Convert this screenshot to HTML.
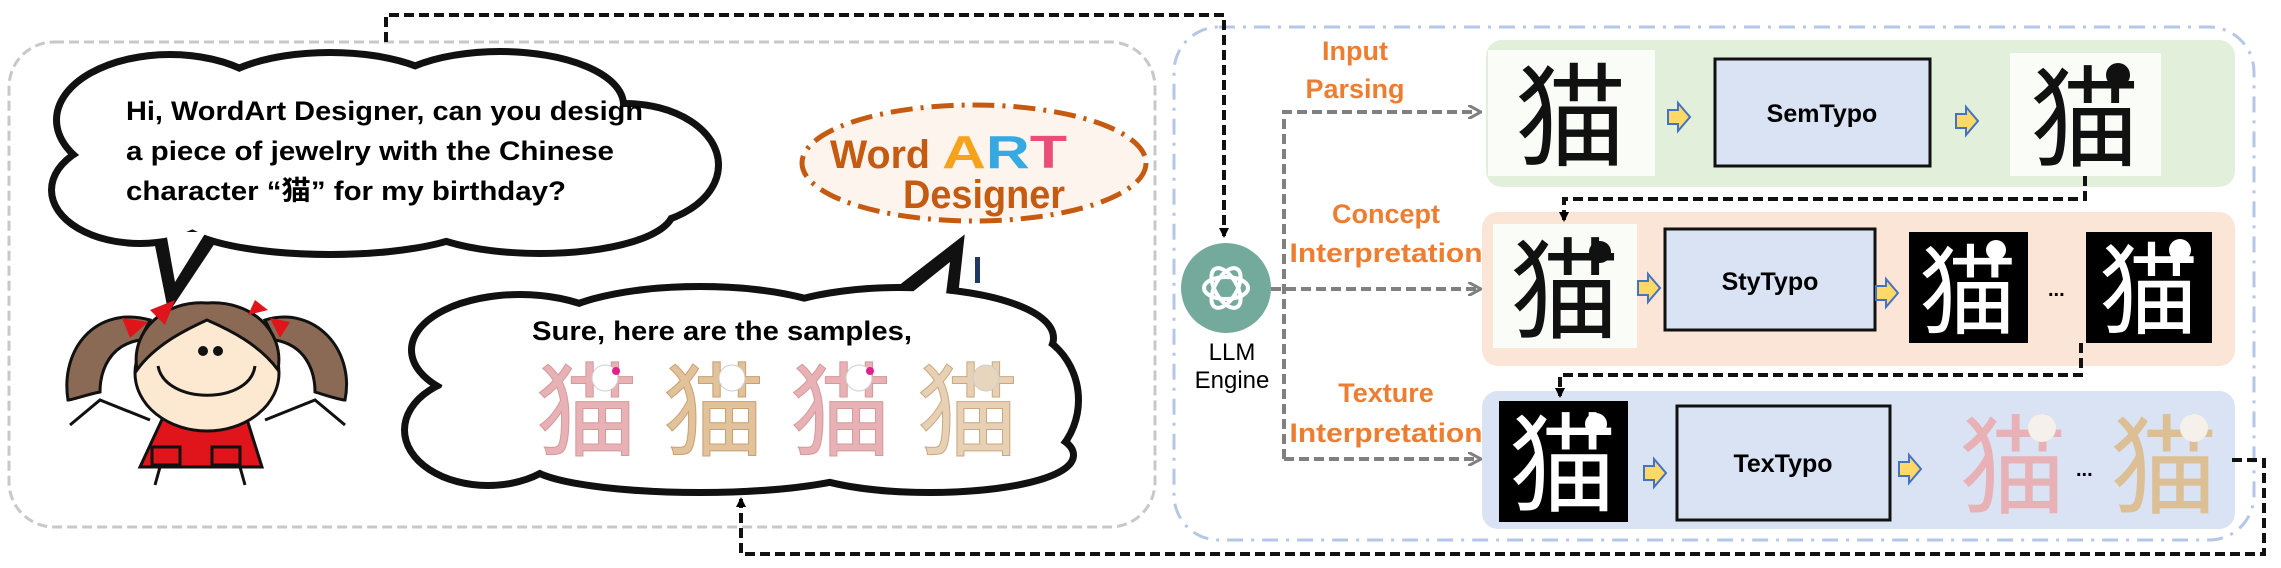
<!DOCTYPE html>
<html><head><meta charset="utf-8"><style>
html,body{margin:0;padding:0;background:#fff;}
svg{display:block;}
text{font-family:"Liberation Sans","Noto Sans CJK SC",sans-serif;font-weight:bold;}
.cj{font-family:"Noto Sans CJK SC",sans-serif;font-weight:normal;}
</style></head><body>
<svg width="2281" height="568" viewBox="0 0 2281 568" xmlns="http://www.w3.org/2000/svg">
<defs>
<marker id="ab" markerWidth="10" markerHeight="10" refX="8" refY="5" orient="auto" markerUnits="userSpaceOnUse"><path d="M0,0 L10,5 L0,10 z" fill="#000"/></marker>
<marker id="ag" markerWidth="14" markerHeight="14" refX="12" refY="7" orient="auto" markerUnits="userSpaceOnUse"><path d="M0,0 L13,7 L0,14" fill="none" stroke="#808080" stroke-width="3"/></marker>
<g id="ya"><path d="M0,-7 L10,-7 L10,-14 L22,0 L10,14 L10,7 L0,7 z" fill="#ffd966" stroke="#4472c4" stroke-width="2"/></g>
</defs>

<rect x="9" y="42" width="1146" height="485" rx="45" fill="none" stroke="#c8c8c8" stroke-width="3" stroke-dasharray="10,5"/>
<rect x="1174" y="27" width="1080" height="513" rx="45" fill="none" stroke="#b4c7e7" stroke-width="3" stroke-dasharray="16,8,3,8"/>

<rect x="1486" y="40" width="749" height="147" rx="16" fill="#e2efda"/>
<rect x="1482" y="212" width="753" height="154" rx="16" fill="#fbe5d6"/>
<rect x="1482" y="391" width="753" height="138" rx="16" fill="#dae3f3"/>

<!-- cloud 1 -->
<g stroke="#111" stroke-width="14" fill="#111">
<polygon points="160,235 212,235 172,295"/>
<ellipse cx="170" cy="120" rx="110" ry="62"/><ellipse cx="330" cy="102" rx="120" ry="46"/><ellipse cx="500" cy="105" rx="120" ry="50"/><ellipse cx="625" cy="165" rx="90" ry="58"/><ellipse cx="540" cy="210" rx="130" ry="40"/><ellipse cx="330" cy="215" rx="150" ry="36"/><ellipse cx="140" cy="190" rx="85" ry="50"/><ellipse cx="380" cy="160" rx="250" ry="70"/>
</g>
<g fill="#fff">
<polygon points="166,232 206,232 175,282"/>
<ellipse cx="170" cy="120" rx="110" ry="62"/><ellipse cx="330" cy="102" rx="120" ry="46"/><ellipse cx="500" cy="105" rx="120" ry="50"/><ellipse cx="625" cy="165" rx="90" ry="58"/><ellipse cx="540" cy="210" rx="130" ry="40"/><ellipse cx="330" cy="215" rx="150" ry="36"/><ellipse cx="140" cy="190" rx="85" ry="50"/><ellipse cx="380" cy="160" rx="250" ry="70"/>
</g>
<text x="126" y="120" font-size="27" textLength="517" lengthAdjust="spacingAndGlyphs">Hi, WordArt Designer, can you design</text>
<text x="126" y="160" font-size="27" textLength="488" lengthAdjust="spacingAndGlyphs">a piece of jewelry with the Chinese</text>
<text x="126" y="200" font-size="27" textLength="440" lengthAdjust="spacingAndGlyphs">character “猫” for my birthday?</text>

<!-- cloud 2 -->
<g stroke="#111" stroke-width="14" fill="#111">
<polygon points="885,305 950,305 956,250"/>
<ellipse cx="520" cy="350" rx="105" ry="52"/><ellipse cx="700" cy="332" rx="150" ry="42"/><ellipse cx="900" cy="338" rx="150" ry="47"/><ellipse cx="1010" cy="400" rx="65" ry="68"/><ellipse cx="930" cy="455" rx="140" ry="34"/><ellipse cx="700" cy="460" rx="170" ry="29"/><ellipse cx="488" cy="430" rx="80" ry="52"/><ellipse cx="740" cy="395" rx="300" ry="78"/>
</g>
<g fill="#fff">
<polygon points="890,310 944,310 950,262"/>
<ellipse cx="520" cy="350" rx="105" ry="52"/><ellipse cx="700" cy="332" rx="150" ry="42"/><ellipse cx="900" cy="338" rx="150" ry="47"/><ellipse cx="1010" cy="400" rx="65" ry="68"/><ellipse cx="930" cy="455" rx="140" ry="34"/><ellipse cx="700" cy="460" rx="170" ry="29"/><ellipse cx="488" cy="430" rx="80" ry="52"/><ellipse cx="740" cy="395" rx="300" ry="78"/>
</g>
<rect x="975" y="257" width="5" height="26" fill="#1f3864"/>
<text x="532" y="340" font-size="27" textLength="380" lengthAdjust="spacingAndGlyphs">Sure, here are the samples,</text>
<g font-size="102" class="cj" text-anchor="middle">
<text class="cj" x="587" y="448" fill="#e7b1b5" stroke="#d49a9a" stroke-width="1">猫</text>
<text class="cj" x="714" y="448" fill="#e2c29a" stroke="#c9a070" stroke-width="1">猫</text>
<text class="cj" x="841" y="448" fill="#e7b1b5" stroke="#d49a9a" stroke-width="1">猫</text>
<text class="cj" x="968" y="448" fill="#e8d0b5" stroke="#c9a880" stroke-width="1">猫</text>
</g>
<g fill="#fff" stroke="#ccc" stroke-width="1">
<circle cx="605" cy="378" r="13"/><circle cx="732" cy="378" r="13"/><circle cx="859" cy="378" r="13"/><circle cx="986" cy="378" r="13" fill="#e8d5bd"/>
</g>
<circle cx="616" cy="371" r="4" fill="#e0218a"/><circle cx="870" cy="371" r="4" fill="#e0218a"/>

<!-- WordArt ellipse -->
<ellipse cx="974" cy="163" rx="172" ry="58" fill="#fdf4ee" stroke="#c55a11" stroke-width="5" stroke-dasharray="22,8,3,8"/>
<text x="830" y="168" font-size="40" fill="#c55a11" textLength="100" lengthAdjust="spacingAndGlyphs">Word</text>
<text x="942" y="168" font-size="46" fill="#e94e77" textLength="125" lengthAdjust="spacingAndGlyphs"><tspan fill="#f7a21b">A</tspan><tspan fill="#36a9e1">R</tspan><tspan fill="#e94e77">T</tspan></text>
<text x="903" y="208" font-size="40" fill="#c55a11" textLength="162" lengthAdjust="spacingAndGlyphs">Designer</text>

<!-- girl -->
<g stroke="#111" stroke-width="3">
<path d="M150,320 C95,305 60,350 68,400 C72,400 85,395 100,392 C100,370 110,345 140,340 Z" fill="#8b6a55"/>
<path d="M265,320 C315,305 355,350 345,400 C340,400 325,395 315,392 C315,370 305,345 275,340 Z" fill="#8b6a55"/>
<path d="M70,425 L100,400 L150,420" fill="none"/>
<path d="M345,425 L315,400 L265,420" fill="none"/>
<path d="M165,413 L245,413 L262,467 L140,467 Z" fill="#e0141b"/>
<line x1="160" y1="467" x2="155" y2="485"/><line x1="240" y1="467" x2="245" y2="485"/>
<ellipse cx="207" cy="373" rx="72" ry="58" fill="#fde9d2"/>
<path d="M137,370 C130,330 165,300 207,303 C250,300 285,330 278,370 C260,345 230,330 207,320 C185,330 155,345 137,370 Z" fill="#8b6a55"/>
<rect x="152" y="447" width="28" height="18" fill="none"/><rect x="212" y="447" width="28" height="18" fill="none"/>
<path d="M158,366 C165,405 250,405 255,366" fill="none"/>
</g>
<circle cx="203" cy="351" r="5" fill="#111"/><circle cx="218" cy="351" r="5" fill="#111"/>
<g fill="#e0141b"><polygon points="150,310 175,300 165,325"/><polygon points="122,318 148,322 130,338"/><polygon points="255,300 268,310 248,315"/><polygon points="270,318 290,322 280,338"/></g>

<!-- black dashed connectors -->
<g fill="none" stroke="#111" stroke-width="4" stroke-dasharray="10,5">
<path d="M386,42 L386,15 L1224,15 L1224,236" marker-end="url(#ab)"/>
<path d="M2232,460 L2264,460 L2264,554 L741,554 L741,499" marker-end="url(#ab)"/>
<path d="M2085,176 L2085,199 L1564,199 L1564,220" marker-end="url(#ab)"/>
<path d="M2081,343 L2081,375 L1560,375 L1560,396" marker-end="url(#ab)"/>
</g>

<!-- LLM -->
<circle cx="1226" cy="288" r="45" fill="#74aa9c"/>
<g fill="none" stroke="#fff" stroke-width="4">
<ellipse cx="1226" cy="288" rx="22" ry="11" transform="rotate(60 1226 288)"/>
<ellipse cx="1226" cy="288" rx="22" ry="11" transform="rotate(-60 1226 288)"/>
<ellipse cx="1226" cy="288" rx="22" ry="11"/>
</g>
<text x="1232" y="360" font-size="24" text-anchor="middle" style="font-weight:normal">LLM</text>
<text x="1232" y="388" font-size="24" text-anchor="middle" style="font-weight:normal">Engine</text>

<!-- gray dashed -->
<g fill="none" stroke="#808080" stroke-width="4" stroke-dasharray="10,5">
<path d="M1284,459 L1284,112 L1480,112" marker-end="url(#ag)"/>
<path d="M1271,289 L1480,289" marker-end="url(#ag)"/>
<path d="M1284,459 L1480,459" marker-end="url(#ag)"/>
</g>

<!-- labels -->
<g fill="#ed7d31" font-size="27" text-anchor="middle">
<text x="1355" y="60">Input</text>
<text x="1355" y="98">Parsing</text>
<text x="1386" y="223">Concept</text>
<text x="1386" y="262" textLength="193" lengthAdjust="spacingAndGlyphs">Interpretation</text>
<text x="1386" y="402">Texture</text>
<text x="1386" y="442" textLength="193" lengthAdjust="spacingAndGlyphs">Interpretation</text>
</g>

<!-- module boxes -->
<g fill="#dae3f3" stroke="#111" stroke-width="3">
<rect x="1715" y="59" width="215" height="107"/>
<rect x="1665" y="229" width="210" height="101"/>
<rect x="1677" y="406" width="213" height="114"/>
</g>
<g font-size="25" text-anchor="middle">
<text x="1822" y="122">SemTypo</text>
<text x="1770" y="290">StyTypo</text>
<text x="1783" y="472">TexTypo</text>
</g>

<!-- images -->
<rect x="1488" y="50" width="167" height="126" fill="#fafcf8"/>
<text class="cj" x="1571" y="157" font-size="112" fill="#111" text-anchor="middle">猫</text>
<rect x="2010" y="53" width="151" height="123" fill="#fafcf8"/>
<text class="cj" x="2085" y="158" font-size="110" fill="#111" text-anchor="middle">猫</text>
<rect x="1493" y="224" width="144" height="124" fill="#fafcf8"/>
<text class="cj" x="1565" y="330" font-size="110" fill="#111" text-anchor="middle">猫</text>
<rect x="1909" y="232" width="119" height="111" fill="#000"/>
<text class="cj" x="1968" y="326" font-size="98" fill="#fff" text-anchor="middle">猫</text>
<rect x="2086" y="232" width="126" height="111" fill="#000"/>
<text class="cj" x="2149" y="326" font-size="100" fill="#fff" text-anchor="middle">猫</text>
<rect x="1499" y="401" width="129" height="121" fill="#000"/>
<text class="cj" x="1563" y="503" font-size="108" fill="#fff" text-anchor="middle">猫</text>
<text class="cj" x="2013" y="505" font-size="108" fill="#e7b1b5" text-anchor="middle">猫</text>
<text class="cj" x="2164" y="505" font-size="108" fill="#dcbf94" text-anchor="middle">猫</text>
<circle cx="2118" cy="75" r="12" fill="#111"/><circle cx="1600" cy="252" r="11" fill="#111"/>
<circle cx="1996" cy="250" r="10" fill="#fff"/><circle cx="2180" cy="250" r="11" fill="#fff"/><circle cx="1596" cy="424" r="11" fill="#fff"/>
<circle cx="2042" cy="428" r="14" fill="#f5f0ea"/><circle cx="2194" cy="428" r="14" fill="#f5f0ea"/>
<g font-size="20"><text x="2048" y="296">...</text><text x="2076" y="476">...</text></g>

<use href="#ya" x="1668" y="117"/><use href="#ya" x="1956" y="121"/>
<use href="#ya" x="1638" y="288"/><use href="#ya" x="1876" y="293"/>
<use href="#ya" x="1644" y="473"/><use href="#ya" x="1899" y="469"/>
</svg>
</body></html>
